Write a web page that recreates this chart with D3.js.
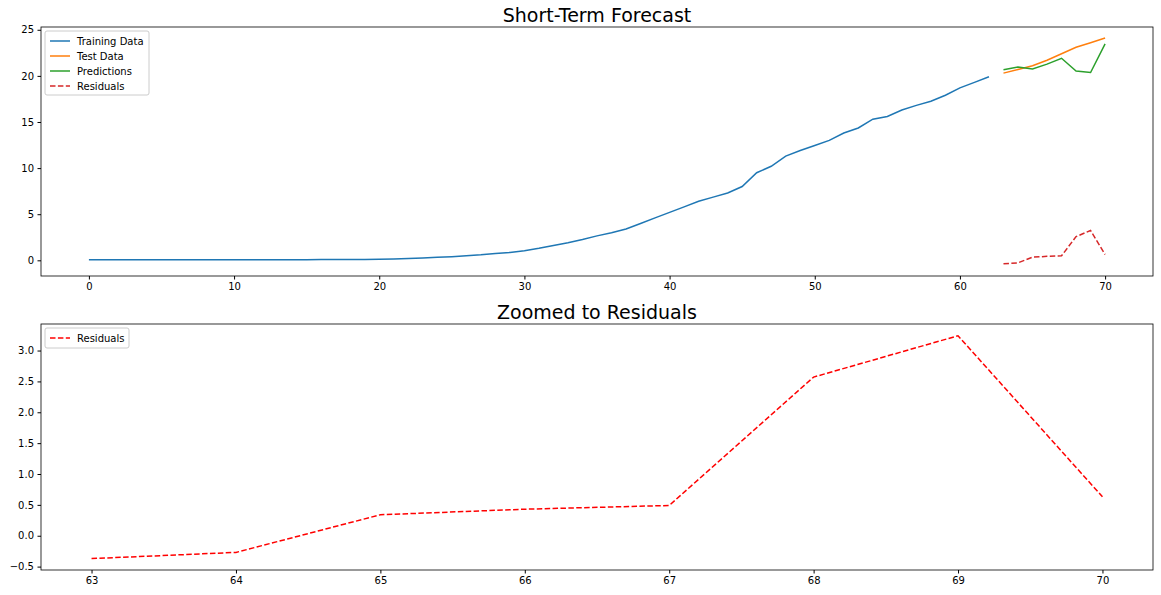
<!DOCTYPE html><html><head><meta charset="utf-8">
<script src="https://cdn.jsdelivr.net/npm/d3@7"></script>
<style>body{margin:0;background:#fff}text{font-family:"DejaVu Sans",sans-serif}</style></head><body>
<svg id="c" width="1161" height="595"></svg>
<script>
const training=[0.05,0.05,0.05,0.05,0.05,0.05,0.05,0.05,0.05,0.05,0.06,0.06,0.06,0.06,0.07,0.07,0.08,0.08,0.09,0.1,0.12,0.15,0.2,0.25,0.32,0.4,0.5,0.6,0.75,0.85,1.05,1.3,1.6,1.9,2.25,2.65,3.0,3.4,4.0,4.6,5.2,5.8,6.4,6.85,7.3,8.0,9.5,10.2,11.3,11.9,12.45,13.0,13.8,14.35,15.3,15.6,16.3,16.8,17.25,17.9,18.7,19.3,19.9];
const testX=[63,64,65,66,67,68,69,70];
const test=[20.3,20.7,21.1,21.7,22.4,23.1,23.6,24.1];
const residuals=[-0.37,-0.27,0.34,0.43,0.49,2.57,3.24,0.63];
const predictions=test.map((v,i)=>v-residuals[i]);
const svg=d3.select("#c");
function panel(top,bottom,title,xd,yd,xt,yt,fmt,series,legend,legH){
  const L=41,R=1153;
  const x=d3.scaleLinear().domain(xd).range([L,R]);
  const y=d3.scaleLinear().domain(yd).range([bottom,top]);
  const g=svg.append("g");
  g.append("g").attr("transform",`translate(0,${bottom})`).call(d3.axisBottom(x).tickValues(xt).tickSize(3.5).tickPadding(3.5).tickFormat(d3.format("d")));
  g.append("g").attr("transform",`translate(${L},0)`).call(d3.axisLeft(y).tickValues(yt).tickSize(3.5).tickPadding(3.5).tickFormat(fmt));
  g.selectAll(".domain").remove();
  g.selectAll(".tick text").attr("font-size",10).attr("fill","#000");
  g.append("rect").attr("x",L).attr("y",top).attr("width",R-L).attr("height",bottom-top).attr("fill","none").attr("stroke","#000").attr("stroke-width",0.8);
  g.append("text").attr("x",(L+R)/2).attr("y",top-5).attr("text-anchor","middle").attr("font-size",19).text(title);
  const line=d3.line().x(d=>x(d[0])).y(d=>y(d[1]));
  series.forEach(s=>g.append("path").attr("d",line(s.d)).attr("fill","none").attr("stroke",s.c).attr("stroke-width",1.5).attr("stroke-dasharray",s.dash?"5.5,2.4":null));
  const lg=g.append("g").attr("transform",`translate(${L+4},${top+4})`);
  lg.append("rect").attr("width",legend.w).attr("height",legH).attr("rx",2).attr("fill","#fff").attr("stroke","#ccc");
  legend.items.forEach((s,i)=>{const yy=10+i*15;
    lg.append("line").attr("x1",5).attr("x2",25).attr("y1",yy).attr("y2",yy).attr("stroke",s.c).attr("stroke-width",1.5).attr("stroke-dasharray",s.dash?"5.5,2.4":null);
    lg.append("text").attr("x",32).attr("y",yy+3.5).attr("font-size",10).text(s.n);});
}
const tr=training.map((v,i)=>[i,v]);
const T={n:"Training Data",c:"#1f77b4",d:tr},Te={n:"Test Data",c:"#ff7f0e",d:testX.map((x,i)=>[x,test[i]])},
P={n:"Predictions",c:"#2ca02c",d:testX.map((x,i)=>[x,predictions[i]])},Rs={n:"Residuals",c:"#d62728",dash:1,d:testX.map((x,i)=>[x,residuals[i]])};
panel(27,276,"Short-Term Forecast",[-3.3,73.3],[-1.7,25.3],[0,10,20,30,40,50,60,70],[0,5,10,15,20,25],d3.format("d"),[T,Te,P,Rs],{w:104,items:[T,Te,P,Rs]},64);
const R2={n:"Residuals",c:"red",dash:1,d:Rs.d};
panel(324,570,"Zoomed to Residuals",[62.65,70.35],[-0.555,3.43],testX,[-0.5,0,0.5,1,1.5,2,2.5,3],d3.format(".1f"),[R2],{w:84,items:[R2]},20);
</script></body></html>
